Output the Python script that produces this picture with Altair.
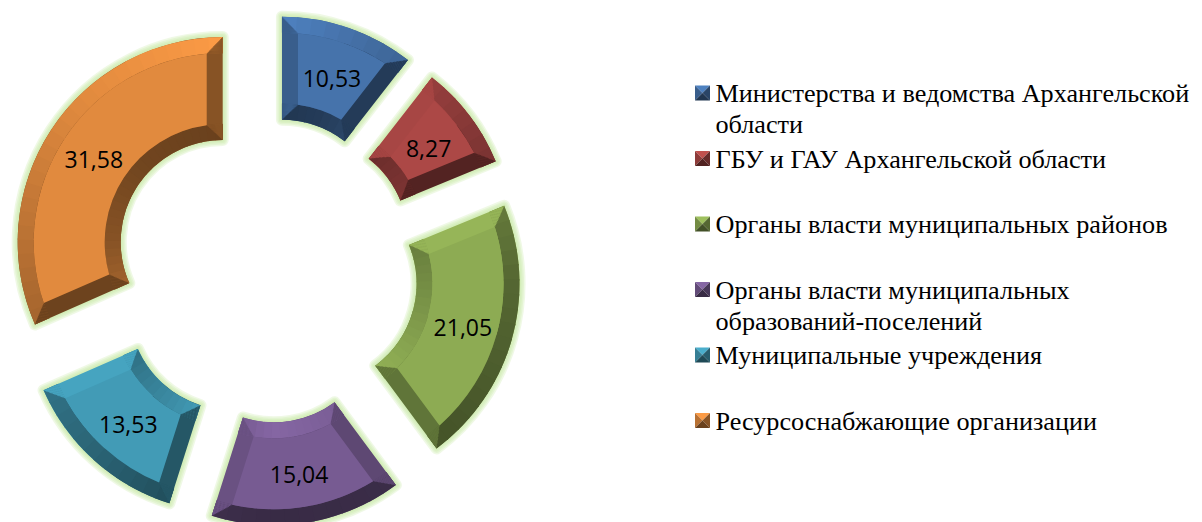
import math
import altair as alt
import pandas as pd

# ---- chart values ----
values = [10.53, 8.27, 21.05, 15.04, 13.53, 31.58]
faces = ["#4673AB", "#AC4846", "#8DAB53", "#775B92", "#429BB6", "#E18A3E"]
legend_lines = [
    ["Министерства и ведомства Архангельской", "области"],
    ["ГБУ и ГАУ Архангельской области"],
    ["Органы власти муниципальных районов"],
    ["Органы власти муниципальных", "образований-поселений"],
    ["Муниципальные учреждения"],
    ["Ресурсоснабжающие организации"],
]

# ---- geometry / style ----
W, H = 1186, 514
CX, CY = 257.4, 262.0          # pie centre in canvas pixels
R, r, BEV, EXPLODE = 205.0, 102.0, 16.0, 51.0
LABEL_R = 154.0
LEG_X_SW, LEG_X_TXT = 687.0, 707.5
LEG_SW_TOP, LEG_BASE_TOP, LEG_STEP, LEG_LEAD = 77.5, 94.0, 65.5, 31.0

SHADE = [(-180, .47), (-160, .52), (-135, .65), (-90, .82), (-45, 1.0), (0, 1.12),
         (30, .92), (60, .75), (90, .60), (135, .50), (180, .47)]

def shade(hex_c, normal):
    n = (normal + 180) % 360 - 180
    for (a, fa), (b, fb) in zip(SHADE, SHADE[1:]):
        if a <= n <= b:
            f = fa + (fb - fa) * (n - a) / (b - a)
            break
    ch = [int(hex_c[i:i + 2], 16) for i in (1, 3, 5)]
    return "#%02x%02x%02x" % tuple(min(255, round(v * f)) for v in ch)

x_scale = alt.Scale(domain=[-CX, W - CX], range=[0, W])
y_scale = alt.Scale(domain=[CY - H, CY], range=[H, 0])
theta_scale = alt.Scale(domain=[0, 360], range=[0, 2 * math.pi])

facets, face_rows, glow_rows, label_rows = [], [], [], []
cum = 0.0
for v, col in zip(values, faces):
    a0, a1 = cum * 3.6, (cum + v) * 3.6
    cum += v
    mid = (a0 + a1) / 2
    cx = EXPLODE * math.sin(math.radians(mid))
    cy = EXPLODE * math.cos(math.radians(mid))
    base = dict(x=cx, y=cy)
    start_c, end_c = shade(col, a0 - 90), shade(col, a1 + 90)

    def add(t0, t1, ro, ri, c):
        facets.append(dict(base, a0=t0, a1=t1, ro=ro, ri=ri, c=c))

    # side facets
    add(a0, mid, R, r, start_c)
    add(mid, a1, R, r, end_c)
    # outer and inner band, shaded along the arc
    n = max(2, int((a1 - a0) / 4))
    for i in range(n):
        t0 = a0 + (a1 - a0) * i / n
        t1 = a0 + (a1 - a0) * (i + 1) / n
        tm = (t0 + t1) / 2
        add(t0, min(a1, t1 + .4), R, R - BEV, shade(col, tm))
        add(t0, min(a1, t1 + .4), r + BEV, r, shade(col, tm + 180))
    # mitred corners
    for d in range(int(BEV)):
        for rho, ro, ri in ((R - d - .5, R - d, R - d - 1.3), (r + d + .5, r + d + 1.3, r + d)):
            da = math.degrees(math.asin((d + .5) / rho))
            add(a0, a0 + da, ro, ri, start_c)
            add(a1 - da, a1, ro, ri, end_c)

    face_rows.append(dict(base, a0=a0, a1=a1, ro=R - BEV, ri=r + BEV, c=col))
    for w in (12, 9, 6, 3):
        glow_rows.append(dict(base, a0=a0, a1=a1, ro=R, ri=r, w=w))
    label_rows.append(dict(
        x=cx + LABEL_R * math.sin(math.radians(mid)),
        y=cy + LABEL_R * math.cos(math.radians(mid)),
        t=f"{v:.2f}".replace(".", ",")))

enc = dict(
    x=alt.X("x:Q", scale=x_scale, axis=None),
    y=alt.Y("y:Q", scale=y_scale, axis=None),
    theta=alt.Theta("a0:Q", scale=theta_scale, stack=None),
    theta2=alt.Theta2("a1:Q"),
    radius=alt.Radius("ro:Q", scale=None),
    radius2=alt.Radius2("ri:Q"),
)

glow = alt.Chart(pd.DataFrame(glow_rows)).mark_arc(
    fill="#C3E89B", stroke="#C3E89B", strokeJoin="round", opacity=.25
).encode(strokeWidth=alt.StrokeWidth("w:Q", scale=None), **enc)

facet_layer = alt.Chart(pd.DataFrame(facets)).mark_arc().encode(
    fill=alt.Fill("c:N", scale=None), **enc)

pad = 2 * math.asin(BEV / math.hypot(R - BEV, r + BEV))
face_layer = alt.Chart(pd.DataFrame(face_rows)).mark_arc(padAngle=pad).encode(
    fill=alt.Fill("c:N", scale=None), **enc)

labels = alt.Chart(pd.DataFrame(label_rows)).mark_text(
    font="Open Sans", fontSize=23, color="#000000", align="center", baseline="middle", dy=3.5
).encode(x=alt.X("x:Q", scale=x_scale, axis=None),
         y=alt.Y("y:Q", scale=y_scale, axis=None), text="t:N")

# ---- legend ----
TRI = {
    "top": ("M-1,-1L1,-1L0,0Z", 0),
    "left": ("M-1,-1L-1,1L0,0Z", -90),
    "right": ("M1,-1L1,1L0,0Z", 90),
    "bottom": ("M-1,1L1,1L0,0Z", 180),
}
sw_rows, txt_rows = [], []
for i, (lines, col) in enumerate(zip(legend_lines, faces)):
    for path, nrm in TRI.values():
        sw_rows.append(dict(x=LEG_X_SW + 7.5 - CX, y=CY - (LEG_SW_TOP + 7.5 + LEG_STEP * i),
                            s=path, c=shade(col, nrm)))
    for j, line in enumerate(lines):
        txt_rows.append(dict(x=LEG_X_TXT - CX, y=CY - (LEG_BASE_TOP + LEG_STEP * i + LEG_LEAD * j), t=line))

swatches = alt.Chart(pd.DataFrame(sw_rows)).mark_point(filled=True, size=225, opacity=1).encode(
    x=alt.X("x:Q", scale=x_scale, axis=None),
    y=alt.Y("y:Q", scale=y_scale, axis=None),
    shape=alt.Shape("s:N", scale=None),
    fill=alt.Fill("c:N", scale=None),
)
legend_text = alt.Chart(pd.DataFrame(txt_rows)).mark_text(
    font="Liberation Serif", fontSize=26.2, color="#000000", align="left", baseline="alphabetic"
).encode(x=alt.X("x:Q", scale=x_scale, axis=None),
         y=alt.Y("y:Q", scale=y_scale, axis=None), text="t:N")

chart = alt.layer(glow, facet_layer, face_layer, labels, swatches, legend_text).properties(
    width=W, height=H, padding=0, autosize=alt.AutoSizeParams(type="none"), background="white"
).configure_view(strokeWidth=0)

chart.save("out.html", embed_options={"renderer": "svg", "actions": False})
